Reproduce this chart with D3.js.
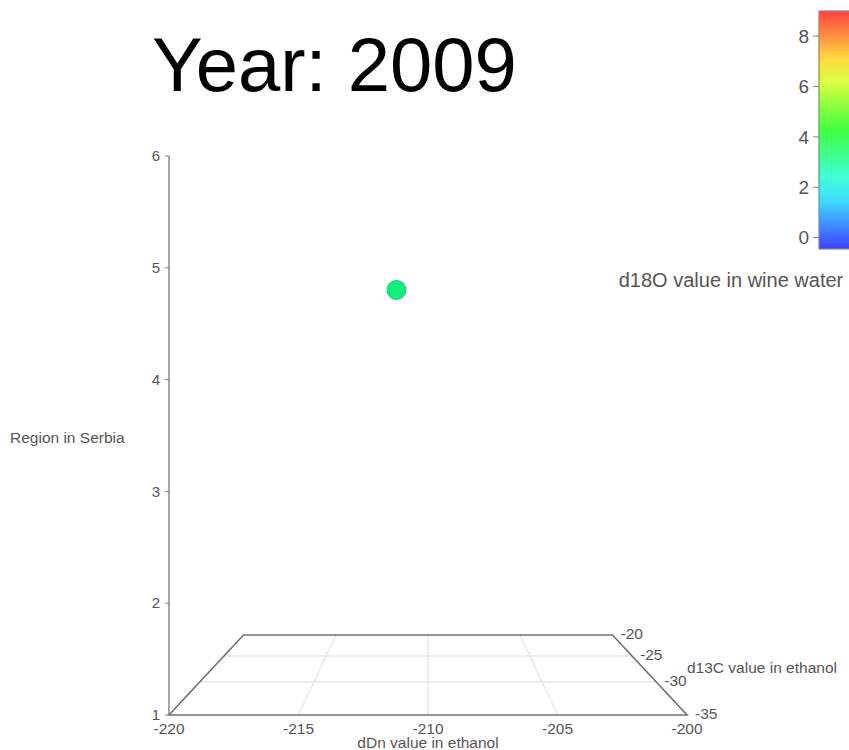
<!DOCTYPE html>
<html>
<head>
  <title>graph3d</title>
  <script src="https://d3js.org/d3.v7.min.js"></script>
  <style>
    body { margin: 0; background: #fff; }
    text { font-family: Arial, "Liberation Sans", sans-serif; }
  </style>
</head>
<body>
  <svg width="849" height="750" id="mainsvg"></svg>
  <script>
    // data for the year shown
    const year = 2009;
    const dDn = [-211.4];      // x axis
    const d13C = [-29.4];      // depth axis
    const region = [5];        // vertical axis
    const d18O = [3.1];        // colour

    const xTicks = [-220, -215, -210, -205, -200];
    const depthTicks = [-35, -30, -25, -20];
    const zTicks = [1, 2, 3, 4, 5, 6];
    const colorTicks = [0, 2, 4, 6, 8];
    const colorMin = -0.45, colorMax = 9;

    let svg = d3.select('#mainsvg');

    // simple perspective: things further back shrink toward a horizon
    const cx = 428, halfW = 259, horizon = 437, k = 0.404;
    const xScale = d3.scaleLinear().domain([-220, -200]).range([-1, 1]);
    const depthScale = d3.scaleLinear().domain([-35, -20]).range([0, 1]);
    const zScale = d3.scaleLinear().domain([1, 6]).range([715, 156]);

    function project(x, d, z) {
      let s = 1 / (1 + k * depthScale(d));
      return [cx + xScale(x) * halfW * s, horizon + (zScale(z) - horizon) * s];
    }

    const hue = d3.scaleLinear().domain([colorMin, colorMax]).range([240, 0]);

    // title
    svg.append('text')
      .attr('x', 152).attr('y', 91)
      .attr('font-size', 76)
      .attr('fill', '#000')
      .text('Year: ' + year);

    const g = svg.append('g');
    const line = d3.line();

    // floor grid
    xTicks.slice(1, -1).forEach(v => {
      g.append('path')
        .attr('d', line([project(v, -35, 1), project(v, -20, 1)]))
        .attr('stroke', '#dcdcdc').attr('stroke-width', 1).attr('fill', 'none');
    });
    depthTicks.slice(1, -1).forEach(v => {
      g.append('path')
        .attr('d', line([project(-220, v, 1), project(-200, v, 1)]))
        .attr('stroke', '#dcdcdc').attr('stroke-width', 1).attr('fill', 'none');
    });

    // floor border
    g.append('path')
      .attr('d', line([project(-220, -35, 1), project(-200, -35, 1), project(-200, -20, 1),
                       project(-220, -20, 1)]) + 'Z')
      .attr('stroke', '#707070').attr('stroke-width', 1.6).attr('fill', 'none');

    // vertical axis
    g.append('path')
      .attr('d', line([project(-220, -35, 1), project(-220, -35, 6)]))
      .attr('stroke', '#808080').attr('stroke-width', 1.4).attr('fill', 'none');

    zTicks.forEach(v => {
      let p = project(-220, -35, v);
      g.append('line')
        .attr('x1', p[0] - 4).attr('x2', p[0]).attr('y1', p[1]).attr('y2', p[1])
        .attr('stroke', '#808080');
      g.append('text')
        .attr('x', p[0] - 9).attr('y', p[1]).attr('dy', '0.35em')
        .attr('text-anchor', 'end').attr('font-size', 15).attr('fill', '#555')
        .text(v);
    });

    xTicks.forEach(v => {
      let p = project(v, -35, 1);
      g.append('text')
        .attr('x', p[0]).attr('y', p[1] + 14).attr('dy', '0.35em')
        .attr('text-anchor', 'middle').attr('font-size', 15.5).attr('fill', '#555')
        .text(v);
    });

    depthTicks.forEach(v => {
      let p = project(-200, v, 1);
      g.append('text')
        .attr('x', p[0] + 8).attr('y', p[1] - 1).attr('dy', '0.35em')
        .attr('font-size', 15.5).attr('fill', '#555')
        .text(v);
    });

    // axis titles
    g.append('text')
      .attr('x', 428).attr('y', 743).attr('dy', '0.35em')
      .attr('text-anchor', 'middle').attr('font-size', 15.5).attr('fill', '#555')
      .text('dDn value in ethanol');
    g.append('text')
      .attr('x', 687).attr('y', 668).attr('dy', '0.35em')
      .attr('font-size', 15.5).attr('fill', '#555')
      .text('d13C value in ethanol');
    g.append('text')
      .attr('x', 10).attr('y', 438).attr('dy', '0.35em')
      .attr('font-size', 15.5).attr('fill', '#555')
      .text('Region in Serbia');

    // points
    const pts = dDn.map((x, i) => ({ x: x, d: d13C[i], z: region[i], c: d18O[i] }));
    g.selectAll('circle.dot').data(pts)
      .enter().append('circle')
      .attr('class', 'dot')
      .attr('cx', d => project(d.x, d.d, d.z)[0])
      .attr('cy', d => project(d.x, d.d, d.z)[1])
      .attr('r', 9.5)
      .attr('fill', d => d3.hsl(hue(d.c), 0.85, 0.5))
      .attr('stroke', d => d3.hsl(hue(d.c), 0.85, 0.45))
      .attr('stroke-width', 1);

    // colour legend
    const barX = 819, barTop = 11, barBottom = 249;
    const cScale = d3.scaleLinear().domain([colorMin, colorMax]).range([barBottom, barTop]);
    const defs = svg.append('defs');
    const grad = defs.append('linearGradient').attr('id', 'cbar')
      .attr('x1', 0).attr('y1', 1).attr('x2', 0).attr('y2', 0);
    d3.range(0, 11).forEach(i => {
      let v = colorMin + (colorMax - colorMin) * i / 10;
      grad.append('stop').attr('offset', i / 10).attr('stop-color', d3.hsl(hue(v), 1, 0.625));
    });
    svg.append('rect')
      .attr('x', barX).attr('y', barTop)
      .attr('width', 40).attr('height', barBottom - barTop)
      .attr('fill', 'url(#cbar)').attr('stroke', '#888').attr('stroke-width', 1.2);
    colorTicks.forEach(v => {
      svg.append('line')
        .attr('x1', barX - 6).attr('x2', barX).attr('y1', cScale(v)).attr('y2', cScale(v))
        .attr('stroke', '#888');
      svg.append('text')
        .attr('x', barX - 10).attr('y', cScale(v)).attr('dy', '0.35em')
        .attr('text-anchor', 'end').attr('font-size', 19).attr('fill', '#555')
        .text(v);
    });
    svg.append('text')
      .attr('x', 731).attr('y', 280).attr('dy', '0.35em')
      .attr('text-anchor', 'middle').attr('font-size', 20).attr('fill', '#555')
      .text('d18O value in wine water');
  </script>
</body>
</html>
